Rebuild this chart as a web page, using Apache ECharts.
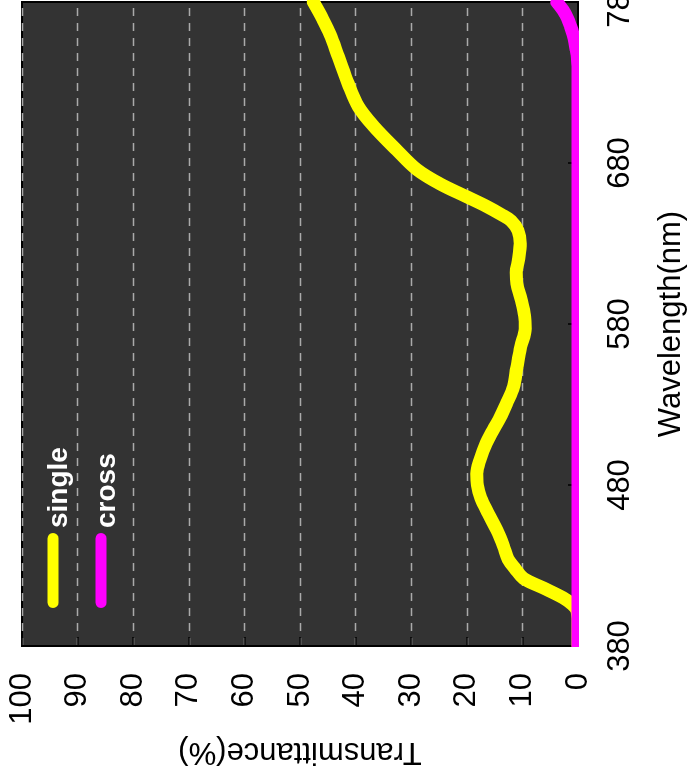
<!DOCTYPE html>
<html>
<head>
<meta charset="utf-8">
<script src="https://cdn.jsdelivr.net/npm/echarts@6/dist/echarts.min.js"></script>
<style>
html, body { margin: 0; padding: 0; background: #fff; overflow: hidden; width: 688px; height: 781px; }
#chart {
  position: absolute; left: 0; top: 0;
  width: 781px; height: 688px;
  transform-origin: 0 0;
  transform: translate(0px, 781px) rotate(-90deg);
}
</style>
</head>
<body>
<div id="chart"></div>
<script>
// Wavelength (nm) and transmittance (%) for "single"
const singleWavelength = [380, 395, 402, 406, 410, 416, 422, 428, 434, 442, 452, 462, 472, 480, 487, 495, 506, 514, 522, 531, 541, 553, 566, 577, 585, 595, 605, 612, 620, 630, 638, 644, 648, 653, 659, 667, 676, 688, 703, 715, 729, 746, 760, 770, 780];
const singleValues = [0, 0, 0.2, 1.1, 2.7, 6.2, 9.8, 11.3, 12.6, 13.4, 14.6, 16.1, 17.5, 18.1, 18.2, 17.7, 16.5, 15.3, 14.0, 12.8, 11.6, 11.0, 10.3, 9.5, 9.6, 10.2, 11.0, 11.1, 10.7, 10.4, 10.8, 12.0, 13.8, 16.4, 20.0, 24.8, 29.0, 32.6, 36.8, 39.5, 41.3, 43.1, 44.6, 46.0, 47.6];
// Wavelength (nm) and transmittance (%) for "cross"
const crossWavelength = [380, 420, 460, 500, 540, 580, 620, 660, 700, 740, 745, 750, 755, 760, 765, 770, 775, 780];
const crossValues = [0, 0, 0, 0, 0, 0, 0, 0, 0, 0, 0.1, 0.3, 0.55, 0.9, 1.35, 1.9, 2.7, 3.8];

const seriesNames = ['single', 'cross'];
const seriesColors = ['#ffff00', '#ff00ff'];
const xAxisName = 'Wavelength(nm)';
const yAxisName = 'Transmittance(%)';

const FONT = '"Liberation Sans", Arial, sans-serif';
const W = 781, H = 688;
const G = { left: 135, right: 2, top: 22, bottom: 110 };
const chart = echarts.init(document.getElementById('chart'), null, { renderer: 'canvas', width: W, height: H });

function pairs(xs, ys) { return xs.map((x, i) => [x, ys[i]]); }

const pillIcon = 'path://M5.5,0H69.5A5.5,5.5,0,0,1,69.5,11H5.5A5.5,5.5,0,0,1,5.5,0Z';

// white masks just outside the plot frame, so thick lines are cut at the frame like the reference
const m = 9, o = 1;
const masks = [
  { x: G.left - o - m, y: G.top - m - o, width: W - G.left + m + o, height: m },
  { x: G.left - o - m, y: H - G.bottom + o, width: W - G.left + m + o, height: m },
  { x: G.left - o - m, y: G.top - m, width: m, height: H - G.top - G.bottom + 2 * m }
].map(s => ({ type: 'rect', z: 100, silent: true, shape: s, style: { fill: '#ffffff' } }));

chart.setOption({
  animation: false,
  backgroundColor: '#ffffff',
  grid: {
    left: G.left, right: G.right, top: G.top, bottom: G.bottom,
    outerBoundsMode: 'none', containLabel: false,
    show: true, backgroundColor: '#333333', borderColor: '#000000', borderWidth: 2
  },
  graphic: { elements: masks },
  legend: {
    orient: 'vertical',
    left: 168, top: 28,
    itemWidth: 75, itemHeight: 11, itemGap: 8,
    icon: pillIcon,
    data: seriesNames,
    formatter: '{t|{name}}',
    textStyle: {
      color: '#ffffff', fontWeight: 'bold', fontSize: 28, fontFamily: FONT,
      rich: { t: { color: '#ffffff', fontWeight: 'bold', fontSize: 28, fontFamily: FONT, lineHeight: 28, padding: [12, 0, 0, 0] } }
    }
  },
  xAxis: {
    type: 'value', min: 380, max: 780, interval: 100,
    name: xAxisName, nameLocation: 'middle', nameGap: 78,
    nameTextStyle: { fontSize: 31, fontFamily: FONT, color: '#000' },
    axisLine: { show: true, lineStyle: { color: '#000', width: 2 } },
    axisTick: { show: true, inside: true, length: 10, lineStyle: { color: '#000', width: 1.5 } },
    axisLabel: { fontSize: 31, fontFamily: FONT, color: '#000', margin: 27, showMaxLabel: true, hideOverlap: false },
    splitLine: { show: false }
  },
  yAxis: {
    type: 'value', min: 0, max: 100, interval: 10,
    name: yAxisName, nameLocation: 'middle', nameGap: 90,
    nameTextStyle: { fontSize: 31, fontFamily: FONT, color: '#000' },
    axisLine: { show: true, lineStyle: { color: '#000', width: 2 } },
    axisTick: { show: true, inside: true, length: 9, lineStyle: { color: '#000', width: 1.5 } },
    axisLabel: { fontSize: 31, fontFamily: FONT, color: '#000', margin: 27 },
    splitLine: { show: true, lineStyle: { color: '#aaaaaa', width: 1.3, type: [8, 7] } }
  },
  series: [
    {
      name: seriesNames[0], type: 'line', data: pairs(singleWavelength, singleValues),
      smooth: 0.35, showSymbol: false, symbol: 'none', clip: true,
      lineStyle: { color: seriesColors[0], width: 13, cap: 'round', join: 'round' },
      itemStyle: { color: seriesColors[0] }
    },
    {
      name: seriesNames[1], type: 'line', data: pairs(crossWavelength, crossValues),
      smooth: 0.35, showSymbol: false, symbol: 'none', clip: true,
      lineStyle: { color: seriesColors[1], width: 13, cap: 'round', join: 'round' },
      itemStyle: { color: seriesColors[1] }
    }
  ]
});
</script>
</body>
</html>
